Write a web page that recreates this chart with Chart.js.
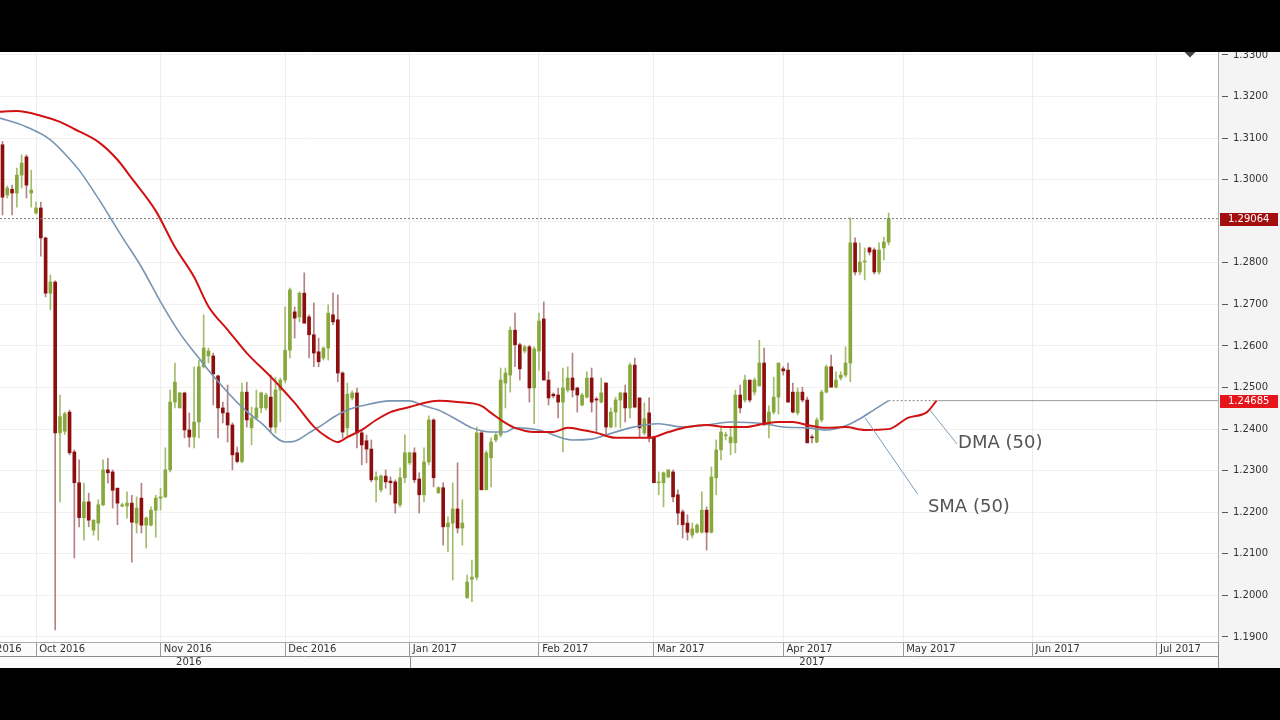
<!DOCTYPE html>
<html><head><meta charset="utf-8">
<script src="https://cdn.jsdelivr.net/npm/chart.js@4.4.1/dist/chart.umd.min.js"></script>
<style>
html,body{margin:0;padding:0;background:#000;width:1280px;height:720px;overflow:hidden}
#wrap{position:absolute;left:0;top:52px;width:1280px;height:616px;background:#fff}
canvas{display:block}
</style></head><body>
<div id="wrap"><canvas id="c" width="1280" height="616"></canvas></div>
<script>
// ---- data (GBP/USD daily candles, index 0 = first session of Oct 2016) ----
const firstIndex = -7;
const openP = [
1.3084,1.2963,1.2977,1.2968,1.3011,1.3055,1.2968,
1.2920,1.2932,1.2860,1.2727,1.2754,1.2391,1.2395,1.2441,1.2345,1.2271,
1.2187,1.2225,1.2157,1.2174,1.2218,1.2302,1.2297,1.2258,1.2215,1.2215,
1.2222,1.2174,1.2234,1.2169,1.2169,1.2205,1.2234,1.2237,1.2302,1.2465,
1.2451,1.2487,1.2398,1.2381,1.2417,1.2550,1.2576,1.2576,1.2528,1.2451,
1.2439,1.2410,1.2343,1.2322,1.2489,1.2403,1.2427,1.2451,1.2451,1.2477,
1.2405,1.2494,1.2518,1.2590,1.2682,1.2670,1.2727,1.2670,1.2627,1.2586,
1.2571,1.2595,1.2675,1.2663,1.2535,1.2403,1.2475,1.2487,1.2391,1.2372,
1.2352,1.2278,1.2254,1.2287,1.2275,1.2273,1.2218,1.2283,1.2319,1.2343,
1.2280,1.2242,1.2321,1.2422,1.2247,1.2259,1.2165,1.2174,1.2208,1.2162,
1.1994,1.2039,1.2044,1.2391,1.2254,1.2331,1.2374,1.2386,1.2511,1.2530,
1.2638,1.2603,1.2588,1.2598,1.2499,1.2588,1.2665,1.2518,1.2484,1.2482,
1.2465,1.2494,1.2523,1.2499,1.2458,1.2477,1.2523,1.2472,1.2465,1.2511,
1.2405,1.2441,1.2470,1.2487,1.2451,1.2554,1.2475,1.2391,1.2439,1.2381,
1.2271,1.2271,1.2285,1.2297,1.2242,1.2201,1.2174,1.2145,1.2152,1.2152,
1.2205,1.2152,1.2283,1.2350,1.2384,1.2367,1.2367,1.2482,1.2470,1.2518,
1.2489,1.2504,1.2559,1.2410,1.2441,1.2477,1.2545,1.2542,1.2489,1.2439,
1.2489,1.2470,1.2381,1.2369,1.2422,1.2489,1.2550,1.2501,1.2523,1.2530,
1.2559,1.2848,1.2778,1.2802,1.2836,1.2831,1.2778,1.2836,1.2850];
const highP = [
1.3092,1.2985,1.2987,1.3028,1.3060,1.3060,1.3023,
1.2946,1.2946,1.2862,1.2771,1.2757,1.2482,1.2441,1.2446,1.2350,1.2326,
1.2270,1.2246,1.2182,1.2230,1.2326,1.2330,1.2302,1.2258,1.2222,1.2249,
1.2241,1.2237,1.2270,1.2189,1.2213,1.2241,1.2258,1.2355,1.2494,1.2559,
1.2489,1.2489,1.2439,1.2550,1.2566,1.2675,1.2595,1.2583,1.2530,1.2465,
1.2506,1.2415,1.2357,1.2511,1.2513,1.2453,1.2494,1.2489,1.2487,1.2530,
1.2525,1.2523,1.2694,1.2739,1.2694,1.2730,1.2776,1.2675,1.2704,1.2619,
1.2598,1.2699,1.2727,1.2723,1.2538,1.2511,1.2492,1.2499,1.2398,1.2386,
1.2374,1.2297,1.2290,1.2302,1.2285,1.2278,1.2307,1.2386,1.2345,1.2355,
1.2295,1.2355,1.2432,1.2425,1.2261,1.2271,1.2189,1.2271,1.2319,1.2230,
1.2049,1.2085,1.2405,1.2396,1.2348,1.2379,1.2391,1.2547,1.2547,1.2646,
1.2679,1.2607,1.2602,1.2602,1.2598,1.2679,1.2706,1.2538,1.2487,1.2499,
1.2547,1.2550,1.2583,1.2501,1.2487,1.2538,1.2547,1.2477,1.2523,1.2511,
1.2451,1.2477,1.2489,1.2506,1.2559,1.2571,1.2475,1.2463,1.2475,1.2381,
1.2297,1.2297,1.2302,1.2302,1.2254,1.2206,1.2194,1.2174,1.2172,1.2249,
1.2213,1.2309,1.2374,1.2403,1.2393,1.2403,1.2494,1.2506,1.2530,1.2518,
1.2523,1.2614,1.2595,1.2456,1.2525,1.2559,1.2550,1.2559,1.2511,1.2499,
1.2501,1.2477,1.2386,1.2427,1.2494,1.2554,1.2578,1.2538,1.2538,1.2598,
1.2908,1.2860,1.2848,1.2836,1.2838,1.2836,1.2848,1.2862,1.2920];
const lowP = [
1.2915,1.2956,1.2915,1.2934,1.2980,1.2956,1.2934,
1.2917,1.2816,1.2718,1.2687,1.1917,1.2225,1.2387,1.2338,1.2090,1.2165,
1.2133,1.2165,1.2145,1.2133,1.2215,1.2270,1.2210,1.2170,1.2213,1.2186,
1.2080,1.2150,1.2150,1.2114,1.2167,1.2140,1.2205,1.2235,1.2297,1.2451,
1.2451,1.2379,1.2357,1.2355,1.2379,1.2547,1.2559,1.2458,1.2379,1.2415,
1.2369,1.2302,1.2319,1.2319,1.2405,1.2362,1.2422,1.2439,1.2446,1.2393,
1.2391,1.2417,1.2511,1.2571,1.2619,1.2658,1.2655,1.2571,1.2550,1.2550,
1.2566,1.2566,1.2651,1.2514,1.2379,1.2381,1.2470,1.2355,1.2314,1.2319,
1.2273,1.2225,1.2249,1.2258,1.2242,1.2198,1.2213,1.2271,1.2314,1.2271,
1.2198,1.2225,1.2314,1.2261,1.2245,1.2121,1.2105,1.2037,1.2150,1.2121,
1.1994,1.1985,1.2037,1.2254,1.2254,1.2261,1.2369,1.2381,1.2451,1.2489,
1.2550,1.2518,1.2583,1.2465,1.2413,1.2542,1.2518,1.2458,1.2475,1.2427,
1.2345,1.2489,1.2477,1.2441,1.2456,1.2475,1.2441,1.2393,1.2463,1.2386,
1.2403,1.2405,1.2403,1.2417,1.2427,1.2451,1.2381,1.2386,1.2369,1.2271,
1.2242,1.2213,1.2283,1.2225,1.2170,1.2138,1.2133,1.2138,1.2150,1.2150,
1.2109,1.2150,1.2242,1.2326,1.2374,1.2338,1.2343,1.2439,1.2465,1.2465,
1.2482,1.2504,1.2410,1.2379,1.2436,1.2436,1.2530,1.2465,1.2439,1.2434,
1.2465,1.2367,1.2367,1.2367,1.2417,1.2487,1.2501,1.2499,1.2518,1.2525,
1.2514,1.2771,1.2771,1.2759,1.2819,1.2773,1.2773,1.2807,1.2843];
const closeP = [
1.2958,1.2980,1.2968,1.3011,1.3040,1.2987,1.2975,
1.2932,1.2860,1.2727,1.2754,1.2391,1.2430,1.2437,1.2343,1.2271,1.2187,
1.2225,1.2181,1.2181,1.2218,1.2302,1.2295,1.2253,1.2222,1.2218,1.2222,
1.2176,1.2210,1.2169,1.2186,1.2205,1.2234,1.2237,1.2302,1.2465,1.2513,
1.2487,1.2398,1.2381,1.2417,1.2550,1.2595,1.2588,1.2533,1.2451,1.2439,
1.2410,1.2338,1.2322,1.2489,1.2422,1.2427,1.2451,1.2487,1.2482,1.2405,
1.2494,1.2518,1.2590,1.2735,1.2667,1.2727,1.2655,1.2627,1.2583,1.2562,
1.2595,1.2679,1.2658,1.2535,1.2393,1.2484,1.2487,1.2391,1.2362,1.2352,
1.2278,1.2285,1.2287,1.2273,1.2271,1.2222,1.2283,1.2343,1.2343,1.2278,
1.2242,1.2321,1.2422,1.2283,1.2259,1.2165,1.2174,1.2208,1.2162,1.2174,
1.2032,1.2044,1.2391,1.2254,1.2343,1.2369,1.2386,1.2518,1.2535,1.2638,
1.2603,1.2545,1.2598,1.2499,1.2593,1.2660,1.2518,1.2475,1.2480,1.2465,
1.2499,1.2523,1.2494,1.2482,1.2482,1.2523,1.2465,1.2470,1.2487,1.2405,
1.2441,1.2470,1.2487,1.2451,1.2554,1.2453,1.2403,1.2425,1.2379,1.2271,
1.2273,1.2295,1.2302,1.2237,1.2198,1.2170,1.2152,1.2160,1.2169,1.2205,
1.2152,1.2285,1.2350,1.2393,1.2386,1.2381,1.2482,1.2451,1.2518,1.2470,
1.2518,1.2559,1.2410,1.2441,1.2477,1.2559,1.2540,1.2465,1.2441,1.2489,
1.2470,1.2367,1.2379,1.2422,1.2489,1.2550,1.2501,1.2518,1.2530,1.2559,
1.2848,1.2778,1.2802,1.2804,1.2826,1.2778,1.2831,1.2850,1.29064];

// SMA(50) at selected sessions
const smaIdx = [-8,-2,3,7,9,13,18,22,26,30,34,37,43,47,52,54,57,60,62,65,68,74,78,81,84,88,91,95,98,100,105,112,116,119,124,127,130,135,140,145,152,156,161,165,169,172,175,178];
const smaVal = [1.3150,1.3127,1.3096,1.3050,1.3023,1.2955,1.2862,1.2790,1.2706,1.2631,1.2571,1.2528,1.2453,1.2415,1.2369,1.2371,1.2391,1.2412,1.2428,1.2446,1.2456,1.2468,1.2468,1.2456,1.2446,1.2422,1.2403,1.2393,1.2393,1.2403,1.2398,1.2374,1.2376,1.2386,1.2403,1.2410,1.2413,1.2405,1.2410,1.2417,1.2413,1.2405,1.2403,1.2398,1.2408,1.2425,1.2447,1.24685];
// DMA(50), displaced forward
const dmaIdx = [-8,-4,1,5,8,13,17,20,25,29,33,36,40,44,49,54,58,61,63,65,68,71,74,78,81,84,88,93,95,98,100,104,108,111,114,117,121,128,132,136,140,144,148,152,155,158,161,165,169,173,178,182,186,188];
const dmaVal = [1.3163,1.3165,1.3154,1.3139,1.3122,1.3091,1.3048,1.3003,1.2925,1.2838,1.2766,1.2695,1.2639,1.2583,1.2526,1.2463,1.2406,1.2379,1.2369,1.2381,1.2398,1.2422,1.2441,1.2453,1.2463,1.2468,1.2465,1.2456,1.2439,1.2415,1.2403,1.2393,1.2393,1.2403,1.2398,1.2391,1.2379,1.2379,1.2393,1.2405,1.2410,1.2405,1.2405,1.2413,1.2417,1.2417,1.2410,1.2403,1.2405,1.2398,1.2400,1.2427,1.2441,1.24685];

const monthStartIdx = [0,26,52,78,105,129,156,181,208,234];
const monthLabels = ['Oct 2016','Nov 2016','Dec 2016','Jan 2017','Feb 2017','Mar 2017','Apr 2017','May 2017','Jun 2017','Jul 2017'];
const yearLabels = ['2016','2017'];
const yTickValues = [1.19,1.20,1.21,1.22,1.23,1.24,1.25,1.26,1.27,1.28,1.29,1.30,1.31,1.32,1.33];
const lastPrice = 1.29064;
const maLevel = 1.24685;

// ---- layout constants ----
const X_MIN = -7.52, X_MAX = 246.76, Y_MIN = 1.18879, Y_MAX = 1.33072;
const FONT = '"DejaVu Sans", Verdana, sans-serif';
const sepLabelIdx = -13.6;
const yearCenterIdx = [31.9, 162.0];
const dmaPointer = [{x:186.6,y:1.2446},{x:192.3,y:1.2364}];
const smaPointer = [{x:173.1,y:1.2427},{x:184.1,y:1.2243}];
const dmaText = {x:192.5,y:1.2366,t:'DMA (50)'};
const smaText = {x:186.2,y:1.2213,t:'SMA (50)'};

const lastIdx = firstIndex + closeP.length - 1;
const dmaEnd = dmaIdx[dmaIdx.length-1];
const bull = closeP.map((c,k)=>c>=openP[k]);
const bodies = openP.map((o,k)=>({x:firstIndex+k,y:[o,closeP[k]]}));
const wicks = lowP.map((l,k)=>({x:firstIndex+k,y:[l,highP[k]]}));

const extras = {
  id:'extras',
  beforeDraw(chart){
    const {ctx, chartArea:a, width, height} = chart;
    ctx.save();
    ctx.fillStyle = '#f4f4f4';
    ctx.fillRect(a.right,0,width-a.right,height);
    ctx.fillStyle = '#fbfbfb';
    ctx.fillRect(0,a.bottom,a.right,height-a.bottom);
    ctx.restore();
  },
  afterDraw(chart){
    const {ctx, chartArea:a, scales:{x,y}} = chart;
    ctx.save();
    const rowTop = a.bottom + 14;
    ctx.strokeStyle = '#8c8c8c'; ctx.lineWidth = 1;
    ctx.beginPath();
    ctx.moveTo(0, rowTop+0.5); ctx.lineTo(a.right, rowTop+0.5);
    const sep = Math.round(x.getPixelForValue(monthStartIdx[3]))+0.5;
    ctx.moveTo(sep, rowTop); ctx.lineTo(sep, chart.height);
    ctx.moveTo(Math.round(a.right)+0.5, a.bottom); ctx.lineTo(Math.round(a.right)+0.5, chart.height);
    ctx.stroke();
    ctx.font = '10px '+FONT; ctx.fillStyle = '#333';
    ctx.textAlign = 'center'; ctx.textBaseline = 'middle';
    yearLabels.forEach((t,k)=>ctx.fillText(t, x.getPixelForValue(yearCenterIdx[k]), rowTop+6.5));
    ctx.textAlign = 'left';
    ctx.fillText(' Sep 2016', x.getPixelForValue(sepLabelIdx), a.bottom+7);
    // price tags
    const tag=(val,fill,text)=>{
      const py = Math.round(y.getPixelForValue(val));
      ctx.fillStyle = fill; ctx.fillRect(a.right+2, py-6, 58, 13);
      ctx.fillStyle = '#fff'; ctx.textAlign='left'; ctx.textBaseline='middle';
      ctx.fillText(text, a.right+10, py+0.5);
    };
    tag(lastPrice,'#a30f0f',lastPrice.toFixed(5));
    tag(maLevel,'#e8141b',maLevel.toFixed(5));
    // MA labels
    ctx.font = '18px '+FONT; ctx.fillStyle = '#555';
    [dmaText,smaText].forEach(l=>ctx.fillText(l.t, x.getPixelForValue(l.x), y.getPixelForValue(l.y)));
    // small menu triangle
    ctx.fillStyle = '#444';
    ctx.beginPath(); ctx.moveTo(1184.5,0); ctx.lineTo(1195.5,0); ctx.lineTo(1190,5.5); ctx.closePath(); ctx.fill();
    ctx.restore();
  }
};

const lineBase = {type:'line', pointRadius:0, fill:false, borderJoinStyle:'round'};
new Chart(document.getElementById('c'), {
  type:'bar',
  data:{datasets:[
    Object.assign({}, lineBase, {data:smaPointer, borderColor:'#7f9cb8', borderWidth:1}),
    Object.assign({}, lineBase, {data:dmaPointer, borderColor:'#7f9cb8', borderWidth:1}),
    Object.assign({}, lineBase, {data:dmaIdx.map((v,k)=>({x:v,y:dmaVal[k]})), borderColor:'#d01212', borderWidth:2, cubicInterpolationMode:'monotone'}),
    Object.assign({}, lineBase, {data:smaIdx.map((v,k)=>({x:v,y:smaVal[k]})), borderColor:'#7795b3', borderWidth:1.6, cubicInterpolationMode:'monotone'}),
    Object.assign({}, lineBase, {data:[{x:X_MIN,y:lastPrice},{x:X_MAX,y:lastPrice}], borderColor:'#777', borderWidth:1, borderDash:[2,2]}),
    Object.assign({}, lineBase, {data:[{x:lastIdx,y:maLevel},{x:dmaEnd,y:maLevel}], borderColor:'#888', borderWidth:1, borderDash:[2,2]}),
    Object.assign({}, lineBase, {data:[{x:dmaEnd,y:maLevel},{x:X_MAX,y:maLevel}], borderColor:'#9a9a9a', borderWidth:1}),
    {type:'bar', data:bodies, grouped:false, barThickness:3, minBarLength:1, borderWidth:0,
      backgroundColor:c=>bull[c.dataIndex]?'#87a83c':'#8c0e0e'},
    {type:'bar', data:wicks, grouped:false, barThickness:1, borderWidth:0,
      backgroundColor:c=>bull[c.dataIndex]?'#a3bd6c':'#b48282'}
  ]},
  options:{
    responsive:false, animation:false, devicePixelRatio:1,
    layout:{padding:0},
    plugins:{legend:{display:false}, tooltip:{enabled:false}},
    scales:{
      x:{type:'linear', position:'bottom', min:X_MIN, max:X_MAX, offset:false,
        afterBuildTicks:s=>{s.ticks = monthStartIdx.map(v=>({value:v}));},
        afterFit:s=>{s.height = 26; s.paddingLeft = 0; s.paddingRight = 0;},
        ticks:{autoSkip:false, maxRotation:0, align:'start', padding:-13, color:'#333', font:{size:10, family:FONT},
          callback:(v,i)=>' '+monthLabels[i]},
        grid:{offset:false, color:'#eeeeee', tickColor:'#9a9a9a', tickLength:14, lineWidth:1},
        border:{color:'#a8a8a8'}
      },
      y:{type:'linear', position:'right', min:Y_MIN, max:Y_MAX,
        afterBuildTicks:s=>{s.ticks = yTickValues.map(v=>({value:v}));},
        afterFit:s=>{s.width = 62; s.paddingTop = 0; s.paddingBottom = 0;},
        ticks:{padding:5, color:'#333', font:{size:10, family:FONT}, callback:v=>Number(v).toFixed(4)},
        grid:{color:'#f1f1f1', tickColor:'#555', tickLength:10, tickBorderDash:[6,4], tickBorderDashOffset:7},
        border:{color:'#b0b0b0'}
      }
    }
  },
  plugins:[extras]
});
</script>
</body></html>
